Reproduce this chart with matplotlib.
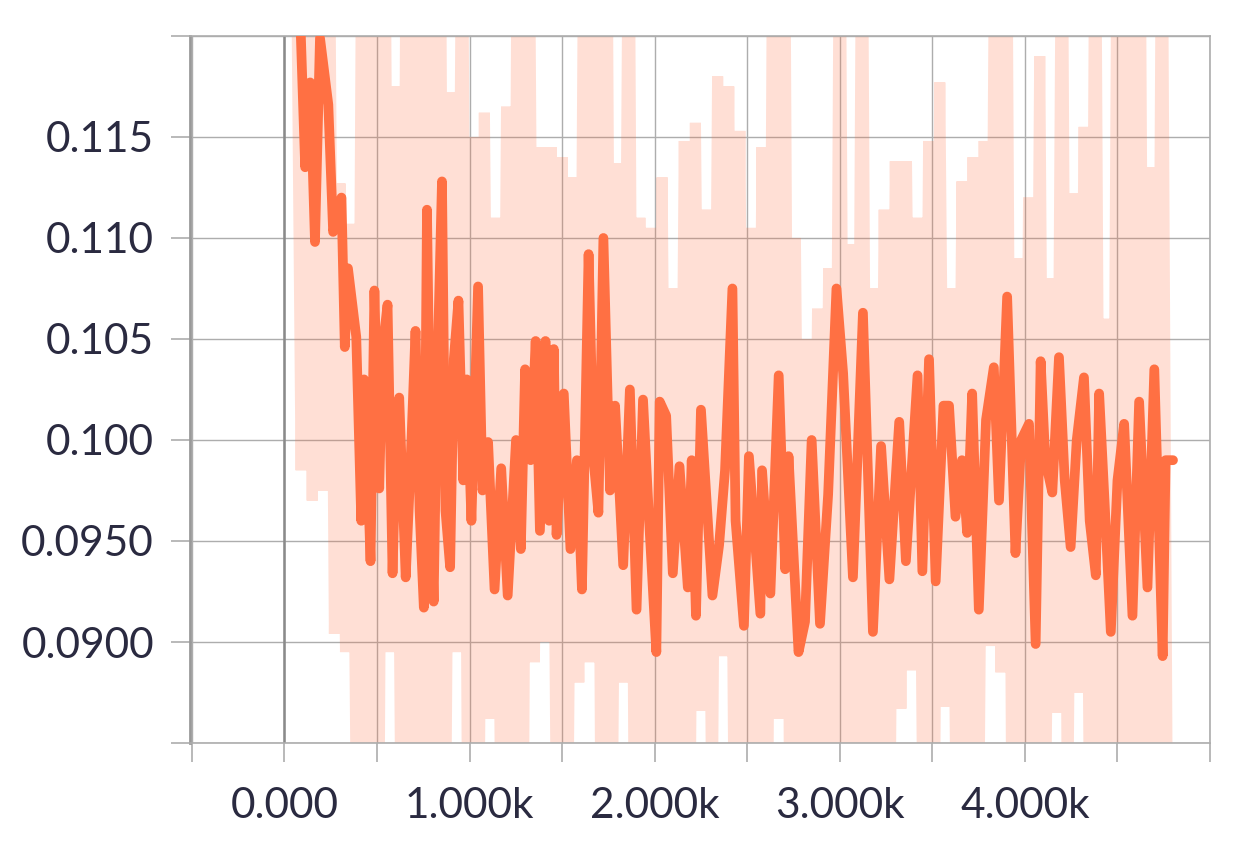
import numpy as np
import matplotlib
matplotlib.use('Agg')
import matplotlib.pyplot as plt
from matplotlib.ticker import FixedLocator, FuncFormatter

# smoothed loss curve (step, value)
smooth_steps = [85, 112, 139, 165, 192, 237, 263, 308, 326, 343, 388, 415, 430, 450, 465,
                486, 512, 530, 557, 584, 600, 620, 655, 680, 708, 730, 753, 770, 790, 806,
                825, 851, 870, 895, 915, 940, 966, 985, 1010, 1046, 1070, 1100, 1135,
                1171, 1206, 1251, 1277, 1300, 1330, 1357, 1380, 1410, 1430, 1455, 1470, 1509, 1545, 1580,
                1607, 1643, 1670, 1696, 1723, 1759, 1786, 1830, 1866, 1902, 1937, 1970, 2009, 2027, 2062,
                2098, 2134, 2179, 2200, 2223, 2250, 2312, 2348, 2380, 2420, 2437, 2482, 2509, 2571, 2580,
                2625, 2670, 2705, 2723, 2777, 2812, 2848, 2893, 2937, 2982, 3018, 3071, 3125, 3179, 3223,
                3268, 3321, 3357, 3420, 3446, 3482, 3518, 3560, 3590, 3625, 3660, 3688, 3715, 3751, 3790,
                3832, 3860, 3904, 3949, 3980, 4022, 4058, 4085, 4110, 4148, 4184, 4215, 4247, 4280, 4319,
                4350, 4383, 4401, 4430, 4464, 4500, 4536, 4581, 4617, 4662, 4699, 4744, 4760, 4800]
smooth_vals = [0.1210, 0.1135, 0.1177, 0.1098, 0.1199, 0.1166, 0.1103, 0.1120, 0.1046, 0.1085, 0.1051, 0.0960, 0.1030, 0.0983, 0.0940,
               0.1074, 0.0976, 0.1045, 0.1067, 0.0934, 0.0990, 0.1021, 0.0932, 0.0985, 0.1054, 0.0965, 0.0917, 0.1114, 0.0975, 0.0920,
               0.1030, 0.1128, 0.0965, 0.0937, 0.1040, 0.1069, 0.0980, 0.1030, 0.0960, 0.1076, 0.0975, 0.0999, 0.0926,
               0.0986, 0.0923, 0.1000, 0.0946, 0.1035, 0.0990, 0.1049, 0.0955, 0.1049, 0.0960, 0.1045, 0.0953, 0.1023, 0.0946, 0.0990,
               0.0926, 0.1092, 0.0990, 0.0964, 0.1100, 0.0975, 0.1017, 0.0938, 0.1025, 0.0916, 0.1020, 0.0960, 0.0895, 0.1019, 0.1012,
               0.0934, 0.0987, 0.0927, 0.0990, 0.0913, 0.1015, 0.0923, 0.0948, 0.0985, 0.1075, 0.0960, 0.0908, 0.0992, 0.0914, 0.0985,
               0.0924, 0.1032, 0.0936, 0.0992, 0.0895, 0.0910, 0.1000, 0.0909, 0.0973, 0.1075, 0.1033, 0.0932, 0.1063, 0.0905, 0.0997,
               0.0931, 0.1009, 0.0940, 0.1032, 0.0935, 0.1040, 0.0930, 0.1017, 0.1017, 0.0962, 0.0990, 0.0954, 0.1023, 0.0916, 0.1010,
               0.1036, 0.0970, 0.1071, 0.0944, 0.1000, 0.1008, 0.0899, 0.1039, 0.0990, 0.0974, 0.1041, 0.0980, 0.0947, 0.1000, 0.1031,
               0.0960, 0.0933, 0.1023, 0.0970, 0.0905, 0.0980, 0.1008, 0.0913, 0.1019, 0.0927, 0.1035, 0.0893, 0.0990, 0.0990]

# raw (unsmoothed) values, one every 30 steps starting at 60
raw_steps = np.arange(60, 4771, 30)
raw_vals = [0.130, 0.0985, 0.130, 0.097, 0.130, 0.0975, 0.130, 0.0904, 0.1127, 0.0895,
            0.1107, 0.080, 0.130, 0.080, 0.130, 0.080, 0.130, 0.0895, 0.1175, 0.080,
            0.130, 0.080, 0.130, 0.080, 0.130, 0.080, 0.130, 0.080, 0.1172, 0.0895,
            0.130, 0.080, 0.115, 0.080, 0.1162, 0.0862, 0.111, 0.080, 0.1165, 0.080,
            0.130, 0.080, 0.130, 0.089, 0.1145, 0.090, 0.1145, 0.080, 0.114, 0.080,
            0.113, 0.088, 0.130, 0.089, 0.130, 0.080, 0.130, 0.080, 0.1137, 0.088,
            0.130, 0.080, 0.111, 0.080, 0.1105, 0.080, 0.113, 0.080, 0.1075, 0.080,
            0.1148, 0.080, 0.1157, 0.0866, 0.1114, 0.080, 0.118, 0.0893, 0.1175, 0.080,
            0.1153, 0.080, 0.1105, 0.080, 0.1145, 0.080, 0.130, 0.0862, 0.130, 0.080,
            0.110, 0.080, 0.105, 0.080, 0.1065, 0.080, 0.1085, 0.080, 0.130, 0.080,
            0.1097, 0.080, 0.130, 0.080, 0.1075, 0.080, 0.1114, 0.080, 0.1138, 0.0867,
            0.1138, 0.0886, 0.111, 0.080, 0.1148, 0.080, 0.1177, 0.0868, 0.1075, 0.080,
            0.1128, 0.080, 0.114, 0.080, 0.1148, 0.0898, 0.130, 0.0885, 0.130, 0.080,
            0.109, 0.080, 0.112, 0.080, 0.119, 0.080, 0.108, 0.0865, 0.130, 0.080,
            0.1122, 0.0875, 0.1155, 0.080, 0.130, 0.080, 0.106, 0.080, 0.130, 0.080,
            0.130, 0.080, 0.130, 0.080, 0.1135, 0.080, 0.130, 0.080]

x_ticks = np.arange(-500, 5001, 500)
x_tick_labels = {0: '0.000', 1000: '1.000k', 2000: '2.000k', 3000: '3.000k', 4000: '4.000k'}
y_ticks = [0.085, 0.090, 0.095, 0.100, 0.105, 0.110, 0.115, 0.120]
y_tick_labels = ['', '0.0900', '0.0950', '0.100', '0.105', '0.110', '0.115', '']

orange = '#ff7043'
text_col = '#2a2a40'
grid_col = '#adadad'

fig = plt.figure(figsize=(12.56, 8.56), dpi=100)
ax = fig.add_axes([0.1513, 0.132, 0.8121, 0.826])

ax.plot(raw_steps, raw_vals, color=orange, alpha=0.22, lw=8, solid_joinstyle='miter', zorder=2)
ax.plot(smooth_steps, smooth_vals, color=orange, lw=7, solid_capstyle='round',
        solid_joinstyle='round', zorder=3)

ax.set_xlim(-510, 5000)
ax.set_ylim(0.085, 0.120)

ax.xaxis.set_major_locator(FixedLocator(x_ticks))
ax.xaxis.set_major_formatter(FuncFormatter(lambda v, p: x_tick_labels.get(int(round(v)), '')))
ax.set_yticks(y_ticks)
ax.set_yticklabels(y_tick_labels)

ax.set_axisbelow(True)
ax.grid(True, color=grid_col, lw=1.0)
ax.axvline(0, color='#8a8a8a', lw=1.8, zorder=1)

for s in ax.spines.values():
    s.set_color(grid_col)
    s.set_linewidth(1.2)
ax.spines['left'].set_color('#999999')
ax.spines['left'].set_linewidth(2.0)

ax.tick_params(axis='both', color=grid_col, length=14, width=1.2)
ax.tick_params(axis='y', pad=12)
ax.tick_params(axis='x', pad=18)
for lab in ax.get_xticklabels() + ax.get_yticklabels():
    lab.set_fontfamily(['Lato', 'DejaVu Sans'])
    lab.set_fontweight('normal')
    lab.set_fontsize(30.5)
    lab.set_color(text_col)

fig.savefig('out.png', dpi=100, facecolor='white')
